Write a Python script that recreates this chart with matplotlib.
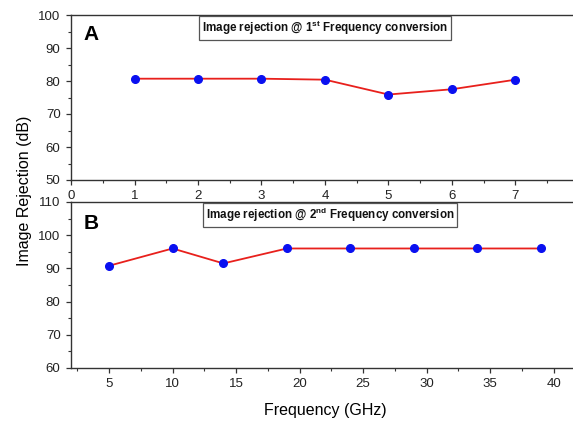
import matplotlib
matplotlib.use("Agg")
import matplotlib.pyplot as plt
from matplotlib.ticker import MultipleLocator

plt.rcParams.update({"font.family": "Liberation Sans", "font.size": 9,
                     "mathtext.fontset": "custom",
                     "mathtext.rm": "Liberation Sans",
                     "mathtext.bf": "Liberation Sans:bold"})

# panel A: 1st frequency conversion
freq_a = [1, 2, 3, 4, 5, 6, 7]
rej_a = [80.7, 80.7, 80.7, 80.4, 75.9, 77.5, 80.4]

# panel B: 2nd frequency conversion
freq_b = [5, 10, 14, 19, 24, 29, 34, 39]
rej_b = [90.8, 96.0, 91.5, 96.0, 96.0, 96.0, 96.0, 96.0]

title_a = r"Image rejection @ 1$^{\mathbf{st}}$ Frequency conversion"
title_b = r"Image rejection @ 2$^{\mathbf{nd}}$ Frequency conversion"

fig = plt.figure(figsize=(5.73, 4.24), dpi=100)
# axes run past the right edge of the canvas, like the cropped original
ax1 = fig.add_axes([71 / 573, 1 - 180 / 424, 508 / 573, 165 / 424])
ax2 = fig.add_axes([71 / 573, 1 - 368 / 424, 508 / 573, 166 / 424])


def style(ax):
    for sp in ax.spines.values():
        sp.set_color("#333333")
        sp.set_linewidth(1.0)
    ax.tick_params(which="major", direction="out", length=3.5, width=0.9,
                   color="#333333", pad=4, labelsize=9.5, labelcolor="#222")
    ax.tick_params(which="minor", direction="out", length=2.2, width=0.8,
                   color="#333333")


def boxed(ax, x, text):
    ax.text(x, 1 - 4 / 165, text, transform=ax.transAxes, ha="center",
            va="top", fontsize=8.4, fontweight="bold", color="#111",
            bbox=dict(boxstyle="square,pad=0.25", fc="white", ec="#555",
                      lw=0.9))


ax1.plot(freq_a, rej_a, "-", color="#e8201c", lw=1.3, zorder=2)
ax1.plot(freq_a, rej_a, "o", color="#0a10f0", ms=5.5, zorder=3)
ax1.set_xlim(0, 8)
ax1.set_ylim(50, 100)
ax1.xaxis.set_major_locator(MultipleLocator(1))
ax1.xaxis.set_minor_locator(MultipleLocator(0.5))
ax1.yaxis.set_major_locator(MultipleLocator(10))
ax1.yaxis.set_minor_locator(MultipleLocator(5))
style(ax1)
boxed(ax1, 0.5, title_a)
ax1.text(0.024, 0.848, "A", transform=ax1.transAxes, fontsize=15,
         fontweight="bold")

ax2.plot(freq_b, rej_b, "-", color="#e8201c", lw=1.3, zorder=2)
ax2.plot(freq_b, rej_b, "o", color="#0a10f0", ms=5.5, zorder=3)
ax2.set_xlim(2, 42)
ax2.set_ylim(60, 110)
ax2.xaxis.set_minor_locator(MultipleLocator(2.5))
ax2.yaxis.set_major_locator(MultipleLocator(10))
ax2.yaxis.set_minor_locator(MultipleLocator(5))
style(ax2)
ax2.set_xticks([5, 10, 15, 20, 25, 30, 35, 40])
boxed(ax2, 0.51, title_b)
ax2.text(0.024, 0.836, "B", transform=ax2.transAxes, fontsize=15,
         fontweight="bold")
ax2.set_xlabel("Frequency (GHz)", fontsize=11.5, labelpad=9)

fig.text(25 / 573, 1 - 191 / 424, "Image Rejection (dB)", rotation=90,
         ha="center", va="center", fontsize=11.5)

fig.savefig("out.png", dpi=100)
